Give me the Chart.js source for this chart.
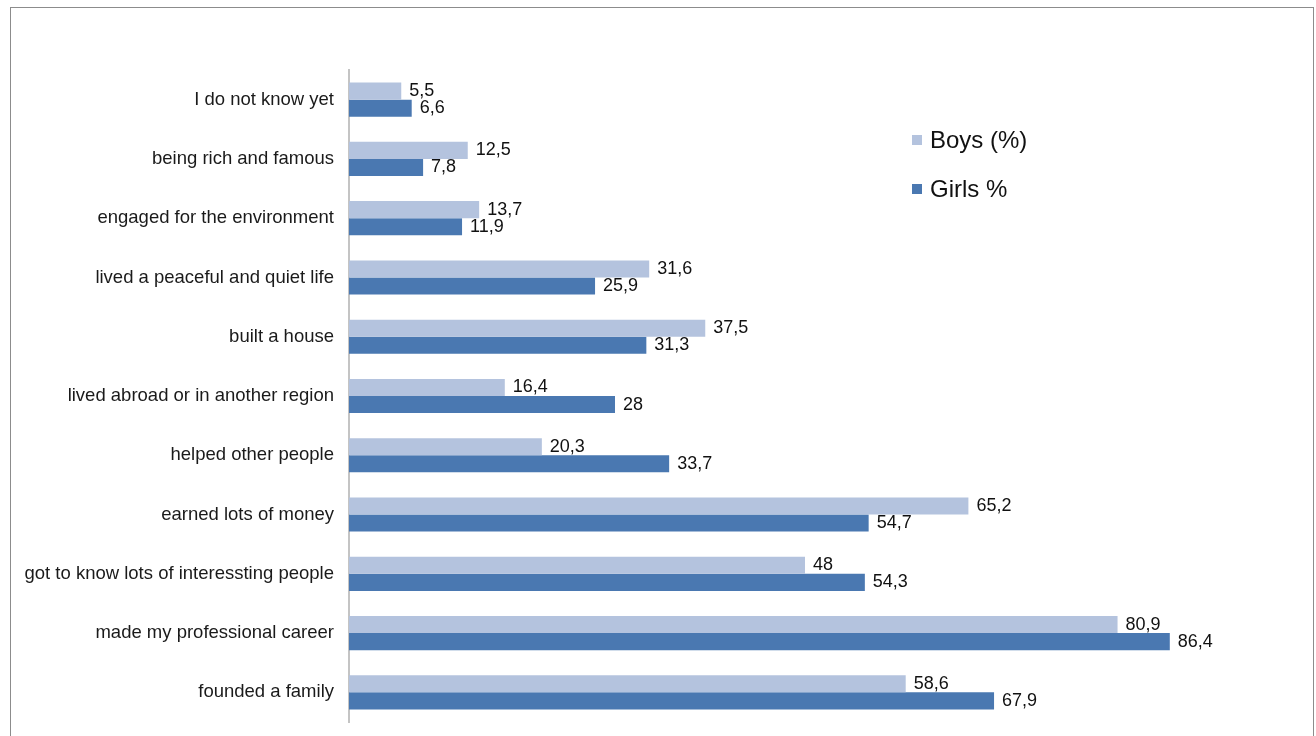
<!DOCTYPE html>
<html>
<head>
<meta charset="utf-8">
<script src="https://cdn.jsdelivr.net/npm/chart.js@4/dist/chart.umd.min.js"></script>
<style>
  html, body { margin: 0; padding: 0; background: #fff; overflow: hidden; }
  #wrap { position: relative; width: 1316px; height: 736px; overflow: hidden; }
  #chart { display: block; }
  #frame { position: absolute; left: 10px; top: 7px; width: 1302px; height: 740px; border: 1px solid #8c8c8c; pointer-events: none; }
</style>
</head>
<body>
<div id="wrap">
  <canvas id="chart" width="1316" height="760"></canvas>
  <div id="frame"></div>
</div>
<script>
// Categories top to bottom
const categories = [
  'I do not know yet',
  'being rich and famous',
  'engaged for the environment',
  'lived a peaceful and quiet life',
  'built a house',
  'lived abroad or in another region',
  'helped other people',
  'earned lots of money',
  'got to know lots of interessting people',
  'made my professional career',
  'founded a family'
];
const boys = [5.5, 12.5, 13.7, 31.6, 37.5, 16.4, 20.3, 65.2, 48, 80.9, 58.6];
const girls = [6.6, 7.8, 11.9, 25.9, 31.3, 28, 33.7, 54.7, 54.3, 86.4, 67.9];

const FONT = '"Liberation Sans", Arial, sans-serif';

// value labels right of each bar, decimal comma
const valueLabels = {
  id: 'valueLabels',
  afterDatasetsDraw(chart) {
    const ctx = chart.ctx;
    ctx.save();
    ctx.font = '18px ' + FONT;
    ctx.fillStyle = '#111';
    ctx.textBaseline = 'middle';
    ctx.textAlign = 'left';
    chart.data.datasets.forEach((ds, i) => {
      chart.getDatasetMeta(i).data.forEach((bar, j) => {
        const txt = String(ds.data[j]).replace('.', ',');
        ctx.fillText(txt, bar.x + 8, bar.y);
      });
    });
    ctx.restore();
  }
};

// legend drawn at right top, like the original
const sideLegend = {
  id: 'sideLegend',
  afterDraw(chart) {
    const ctx = chart.ctx;
    ctx.save();
    ctx.font = '24px ' + FONT;
    ctx.textBaseline = 'middle';
    chart.data.datasets.forEach((ds, i) => {
      const y = 140 + i * 49;
      ctx.fillStyle = ds.backgroundColor;
      ctx.fillRect(912, y - 5, 10, 10);
      ctx.fillStyle = '#111';
      ctx.fillText(ds.label, 930, y + 1);
    });
    ctx.restore();
  }
};

new Chart(document.getElementById('chart'), {
  type: 'bar',
  data: {
    labels: categories,
    datasets: [
      { label: 'Boys (%)', data: boys, backgroundColor: '#b4c3de' },
      { label: 'Girls %', data: girls, backgroundColor: '#4a78b1' }
    ]
  },
  options: {
    indexAxis: 'y',
    responsive: false,
    animation: false,
    categoryPercentage: 0.576,
    barPercentage: 1,
    layout: { padding: { top: 70, bottom: 38, right: 17, left: 0 } },
    plugins: {
      legend: { display: false },
      tooltip: { enabled: false }
    },
    scales: {
      x: { display: false, min: 0, max: 100 },
      y: {
        grid: { display: false, drawTicks: false },
        border: { display: true, color: '#c4c4c4', width: 2 },
        ticks: { color: '#1a1a1a', padding: 15, font: { size: 18.5, family: FONT } },
        afterFit(scale) { scale.width = 349; }
      }
    }
  },
  plugins: [valueLabels, sideLegend]
});
</script>
</body>
</html>
